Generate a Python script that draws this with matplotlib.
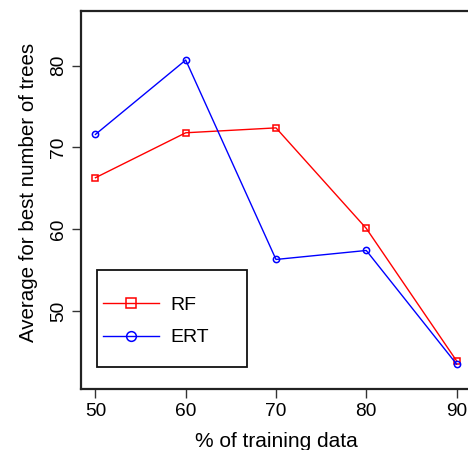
import matplotlib
matplotlib.use("Agg")
import matplotlib.pyplot as plt
from matplotlib.lines import Line2D
from matplotlib.patches import Rectangle

x_pct = [50, 60, 70, 80, 90]
rf = [66.3, 71.8, 72.4, 60.1, 43.9]
ert = [71.6, 80.7, 56.3, 57.4, 43.5]
x_ticks = [50, 60, 70, 80, 90]
y_ticks = [50, 60, 70, 80]
series_names = ['RF', 'ERT']

plt.rcParams['font.family'] = ['Liberation Sans', 'DejaVu Sans']

fig = plt.figure(figsize=(4.68, 4.5), dpi=100)
L, R, T, B = 81, 471, 11, 389
ax = fig.add_axes([L/468, (450-B)/450, (R-L)/468, (B-T)/450])

def ax_x(px):
    return (px - L) / (R - L)

def ax_y(py):
    return (B - py) / (B - T)

ax.plot(x_pct, rf, color='red', lw=1, marker='s', ms=4.5, mfc='none', mec='red', mew=1.1)
ax.plot(x_pct, ert, color='blue', lw=1, marker='o', ms=4.5, mfc='none', mec='blue', mew=1.1)

ax.set_xlim(48.4, 91.6)
ax.set_ylim(40.45, 86.7)
ax.set_xticks(x_ticks)
ax.set_yticks(y_ticks)
ax.tick_params(axis='both', direction='out', length=6.5, width=1, labelsize=13.8,
               colors='#333333', labelcolor='black')
for lbl in ax.get_yticklabels():
    lbl.set_rotation(90)
    lbl.set_va('center')
for sp in ax.spines.values():
    sp.set_linewidth(1.6)
    sp.set_color('#222222')

ax.set_ylabel('Average for best number of trees', fontsize=14.8)
ax.yaxis.set_label_coords(ax_x(38), ax_y(192.5))
ax.set_xlabel('% of training data', fontsize=15, labelpad=9)

# legend frame
ax.add_patch(Rectangle((ax_x(97), ax_y(367)), ax_x(247) - ax_x(97), ax_y(270) - ax_y(367),
                       transform=ax.transAxes, fill=False, edgecolor='#111111', lw=1.3, zorder=5))
handles = [
    Line2D([], [], color='red', lw=1, marker='s', ms=7.5, mfc='none', mec='red', mew=1.1),
    Line2D([], [], color='blue', lw=1, marker='o', ms=7, mfc='none', mec='blue', mew=1.1),
]
leg = ax.legend(handles, series_names, loc='center left',
                bbox_to_anchor=(ax_x(103), ax_y(321.5)), frameon=False,
                fontsize=14, handlelength=2.88, handletextpad=0.6, labelspacing=0.75,
                borderpad=0, borderaxespad=0)

fig.savefig('out.png', dpi=100)
